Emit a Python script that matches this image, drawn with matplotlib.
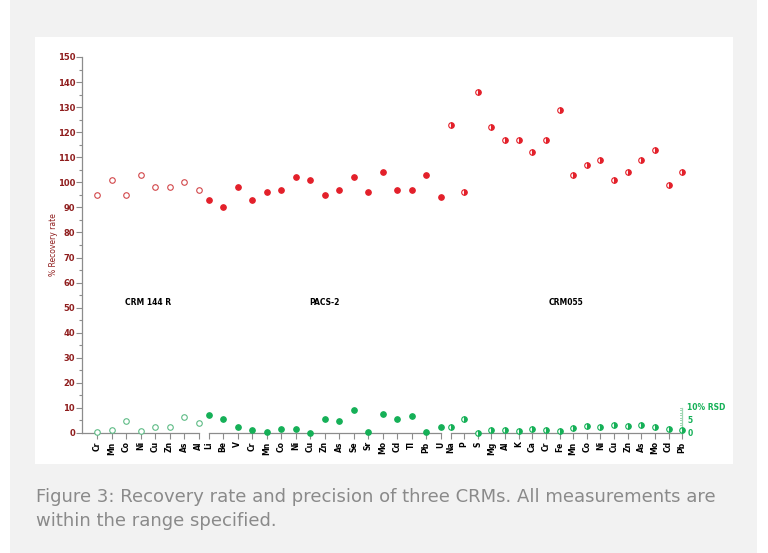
"""
Recovery rate (%) and precision (% RSD) for three CRMs.
Output: out.png
"""
import numpy as np
import matplotlib.pyplot as plt
from matplotlib.patches import Rectangle

# --- data -------------------------------------------------------------
groups = ["CRM 144 R", "PACS-2", "CRM055"]

crm144_elems = ["Cr", "Mn", "Co", "Ni", "Cu", "Zn", "As", "Al"]
crm144_recovery = [95, 101, 95, 103, 98, 98, 100, 97]
crm144_rsd = [0.5, 1.1, 4.8, 0.9, 2.3, 2.3, 6.4, 4.1]

pacs2_elems = ["Li", "Be", "V", "Cr", "Mn", "Co", "Ni", "Cu", "Zn",
               "As", "Se", "Sr", "Mo", "Cd", "Tl", "Pb", "U"]
pacs2_recovery = [93, 90, 98, 93, 96, 97, 102, 101, 95,
                  97, 102, 96, 104, 97, 97, 103, 94]
pacs2_rsd = [7.2, 5.5, 2.5, 1.1, 0.5, 1.6, 1.5, 0.1, 5.6,
             4.9, 9.2, 0.4, 7.6, 5.7, 6.8, 0.5, 2.3]

crm055_elems = ["Na", "P", "S", "Mg", "Al", "K", "Ca", "Cr", "Fe",
                "Mn", "Co", "Ni", "Cu", "Zn", "As", "Mo", "Cd", "Pb"]
crm055_recovery = [123, 96, 136, 122, 117, 117, 112, 117, 129,
                   103, 107, 109, 101, 104, 109, 113, 99, 104]
crm055_rsd = [2.5, 5.7, 0.1, 1.3, 1.1, 0.9, 1.6, 1.2, 0.7,
              2.0, 2.7, 2.4, 3.3, 2.7, 3.2, 2.4, 1.7, 1.2]

CAPTION = ("Figure 3: Recovery rate and precision of three CRMs. All measurements are\n"
           "within the range specified.")

# --- style -------------------------------------------------------------
RED = "#e3202a"
RED_OPEN = "#d2474a"
DARKRED = "#8f1d1d"
GREEN = "#15b057"
GREEN_OPEN = "#5dbb85"
AXIS = "#8c8c8c"
NARROW = ["Liberation Sans Narrow", "DejaVu Sans"]

# layout: positions in "slot" units, small gap between the three CRMs
GAP = 0.69
STEP3 = 0.94
pos1 = np.arange(len(crm144_elems)) * 1.0
pos2 = pos1[-1] + GAP + np.arange(len(pacs2_elems))
pos3 = pos2[-1] + GAP + np.arange(len(crm055_elems)) * STEP3

W, H = 768, 553
fig = plt.figure(figsize=(W / 100, H / 100), dpi=100, facecolor="white")

# page background and white panel
fig.add_artist(Rectangle((10 / W, 0), 747 / W, 1, transform=fig.transFigure,
                         facecolor="#f2f2f2", edgecolor="none", zorder=-10))
fig.add_artist(Rectangle((35 / W, (H - 464) / H), 698 / W, 427 / H,
                         transform=fig.transFigure, facecolor="white",
                         edgecolor="none", zorder=-9))

# axes: y=0 at 433px, y=150 at 57px; y-axis line at x=82px
ax_l, ax_r = 82, 700
ax = fig.add_axes([ax_l / W, (H - 433) / H, (ax_r - ax_l) / W, 376 / H])
ax.set_facecolor("none")
px = 14.5  # pixels per slot
ax.set_xlim((ax_l - 97) / px, (ax_r - 97) / px)
ax.set_ylim(0, 150)

for s in ["top", "right", "bottom"]:
    ax.spines[s].set_visible(False)
ax.spines["left"].set_color(AXIS)
ax.spines["left"].set_linewidth(0.9)

ax.set_yticks(np.arange(0, 151, 10))
ax.set_yticks(np.arange(5, 150, 10), minor=True)
ax.tick_params(axis="y", which="major", direction="out", length=4,
               width=0.8, color=AXIS, labelcolor=DARKRED, labelsize=6, pad=1)
ax.tick_params(axis="y", which="minor", direction="out", length=2.5,
               width=0.8, color=AXIS)
for lab in ax.get_yticklabels():
    lab.set_family(NARROW)
    lab.set_fontweight("bold")
ax.set_ylabel("% Recovery rate", color=DARKRED, fontsize=5.5,
              family=NARROW, labelpad=0)

# x-axis: one segment per CRM, ticks at every element
all_pos = np.concatenate([pos1, pos2, pos3])
all_elems = crm144_elems + pacs2_elems + crm055_elems
ax.set_xticks(all_pos)
ax.set_xticklabels(all_elems, rotation=90, fontsize=5.5, fontweight="bold",
                   family=NARROW)
ax.tick_params(axis="x", direction="out", length=4, width=0.8, color=AXIS,
               pad=2)
ax.plot([ax.get_xlim()[0], pos1[-1]], [0, 0], color=AXIS, lw=0.9,
        clip_on=False, zorder=1)
ax.plot([pos2[0], pos2[-1]], [0, 0], color=AXIS, lw=0.9, clip_on=False, zorder=1)
ax.plot([pos3[0], pos3[-1]], [0, 0], color=AXIS, lw=0.9, clip_on=False, zorder=1)

ms = 4.0
# CRM 144 R: open markers
ax.plot(pos1, crm144_recovery, "o", ms=ms, mfc="white", mec=RED_OPEN,
        mew=0.8, ls="none", clip_on=False, zorder=3)
ax.plot(pos1, crm144_rsd, "o", ms=ms, mfc="white", mec=GREEN_OPEN,
        mew=0.8, ls="none", clip_on=False, zorder=3)
# PACS-2: filled markers
ax.plot(pos2, pacs2_recovery, "o", ms=ms, mfc=RED, mec=RED,
        mew=0.8, ls="none", clip_on=False, zorder=3)
ax.plot(pos2, pacs2_rsd, "o", ms=ms, mfc=GREEN, mec=GREEN,
        mew=0.8, ls="none", clip_on=False, zorder=3)
# CRM055: half-filled markers
ax.plot(pos3, crm055_recovery, "o", ms=ms, fillstyle="right", mfc=RED,
        mfcalt="white", mec=RED, mew=0.8, ls="none", clip_on=False, zorder=3)
ax.plot(pos3, crm055_rsd, "o", ms=ms, fillstyle="right", mfc=GREEN,
        mfcalt="white", mec=GREEN, mew=0.8, ls="none", clip_on=False, zorder=3)

# group labels
for name, p in zip(groups, [pos1, pos2, pos3]):
    ax.text((p[0] + p[-1]) / 2, 52, name, ha="center", va="center",
            fontsize=5.5, fontweight="bold", family=NARROW)

# small % RSD scale on the right end
xr = pos3[-1]
ax.plot([xr, xr], [0, 10], color="#9fd6b3", lw=0.9, clip_on=False, zorder=2)
for v in range(0, 11):
    ax.plot([xr - 0.12, xr], [v, v], color="#9fd6b3", lw=0.7,
            clip_on=False, zorder=2)
for v, s in [(0, "0"), (5, "5"), (10, "10% RSD")]:
    ax.text(xr + 0.35, v, s, ha="left", va="center", fontsize=5.5,
            fontweight="bold", color=GREEN, family=NARROW)

# caption
fig.text(36 / W, 1 - 509 / H, CAPTION, ha="left", va="center",
         fontsize=13, color="#8a8a8a", family=NARROW, linespacing=1.45)

fig.savefig("out.png", dpi=100, facecolor="white")
